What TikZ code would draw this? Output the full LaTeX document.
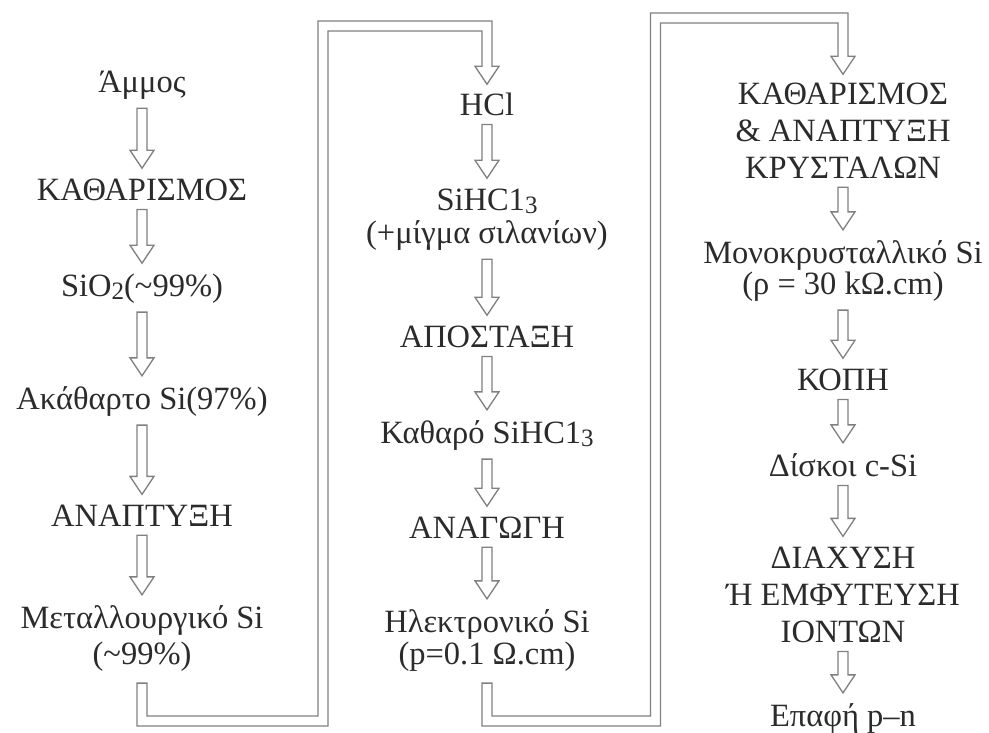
\documentclass[tikz,border=0pt]{standalone}
\usepackage{fontspec}
\setmainfont{Liberation Serif}
\usetikzlibrary{calc}
\definecolor{txtc}{HTML}{2B2B2B}
\definecolor{arrc}{HTML}{808080}
\newcommand\mainsz{\fontsize{32.5}{37}\selectfont}
\newcommand\lowsub[1]{\raisebox{-3pt}{\fontsize{25}{25}\selectfont #1}}
% hollow block arrow between two stacked nodes
\newcommand\flowstep[2]{%
  \path[harrow] let \p1=(#1.south), \p2=(#2.north) in
    (\x1-5pt,\y1-9pt) -- (\x1-5pt,\y2+28pt) -- (\x1-12pt,\y2+28pt) -- (\x1,\y2+10pt)
    -- (\x1+12pt,\y2+28pt) -- (\x1+5pt,\y2+28pt) -- (\x1+5pt,\y1-9pt) -- cycle;}
% hollow band from the foot of one column up and over to the head of the next
\newcommand\flowroute[5]{%
  \path[harrow] let \p1=(#1.south), \p2=(#2.north), \p3=(#3), \p4=(#4), \p5=(#5) in
    (\x1-5pt,\y1-12pt) -- (\x1-5pt,\y3-5pt) -- (\x4+5pt,\y3-5pt) -- (\x4+5pt,\y5-5pt)
    -- (\x2-5pt,\y5-5pt) -- (\x2-5pt,\y2+26pt) -- (\x2-12pt,\y2+26pt) -- (\x2,\y2+8pt)
    -- (\x2+12pt,\y2+26pt) -- (\x2+5pt,\y2+26pt) -- (\x2+5pt,\y5+5pt) -- (\x4-5pt,\y5+5pt)
    -- (\x4-5pt,\y3+5pt) -- (\x1+5pt,\y3+5pt) -- (\x1+5pt,\y1-12pt) -- cycle;}
\tikzset{
  lbl/.style={font=\mainsz, text=txtc, inner sep=0pt, align=center, anchor=base},
  harrow/.style={draw=arrc, line width=1.3pt, fill=white, line join=miter}
}
\begin{document}
\begin{tikzpicture}[x=1pt, y=-1pt]
\useasboundingbox[fill=white] (0,0) rectangle (989,732);

% column 1 (multi-line labels are placed by the baseline of their last line)
\node[lbl] (amm)   at (142,92)  {Άμμος};
\node[lbl] (kath1) at (142,200) {ΚΑΘΑΡΙΣΜΟΣ};
\node[lbl] (sio)   at (142,296) {SiO\lowsub{2}(\textasciitilde99\%)};
\node[lbl] (akat)  at (142,409) {Ακάθαρτο Si(97\%)};
\node[lbl] (anap1) at (142,526) {ΑΝΑΠΤΥΞΗ};
\node[lbl] (metal) at (142,664) {Μεταλλουργικό Si\\[-1pt](\textasciitilde99\%)};

% column 2
\node[lbl] (hcl)   at (487,115) {HCl};
\node[lbl] (sihc)  at (487,243) {SiHC1\lowsub{3}\\[-4pt](+μίγμα σιλανίων)};
\node[lbl] (apos)  at (487,347) {ΑΠΟΣΤΑΞΗ};
\node[lbl] (kathsi) at (487,443) {Καθαρό SiHC1\lowsub{3}};
\node[lbl] (anag)  at (487,538) {ΑΝΑΓΩΓΗ};
\node[lbl] (hlek)  at (487,664) {Ηλεκτρονικό Si\\[-5pt](p=0.1 Ω.cm)};

% column 3
\node[lbl] (kath3) at (843,178) {ΚΑΘΑΡΙΣΜΟΣ\\\&~ΑΝΑΠΤΥΞΗ\\ΚΡΥΣΤΑΛΩΝ};
\node[lbl] (mono)  at (843,294) {Μονοκρυσταλλικό Si\\[-6pt](ρ = 30 kΩ.cm)};
\node[lbl] (kopi)  at (843,390) {ΚΟΠΗ};
\node[lbl] (disk)  at (843,476) {Δίσκοι c-Si};
\node[lbl] (diax)  at (843,642) {ΔΙΑΧΥΣΗ\\Ή ΕΜΦΥΤΕΥΣΗ\\ΙΟΝΤΩΝ};
\node[lbl] (epaf)  at (843,726) {Επαφή p–n};

% turning points of the two linking bands
\coordinate (low1)  at (0,721);
\coordinate (rise1) at (323,0);
\coordinate (top1)  at (0,26);
\coordinate (low2)  at (0,721);
\coordinate (rise2) at (655.5,0);
\coordinate (top2)  at (0,18);

\flowstep{amm}{kath1}
\flowstep{kath1}{sio}
\flowstep{sio}{akat}
\flowstep{akat}{anap1}
\flowstep{anap1}{metal}

\flowstep{hcl}{sihc}
\flowstep{sihc}{apos}
\flowstep{apos}{kathsi}
\flowstep{kathsi}{anag}
\flowstep{anag}{hlek}

\flowstep{kath3}{mono}
\flowstep{mono}{kopi}
\flowstep{kopi}{disk}
\flowstep{disk}{diax}
\flowstep{diax}{epaf}

\flowroute{metal}{hcl}{low1}{rise1}{top1}
\flowroute{hlek}{kath3}{low2}{rise2}{top2}
\end{tikzpicture}
\end{document}
